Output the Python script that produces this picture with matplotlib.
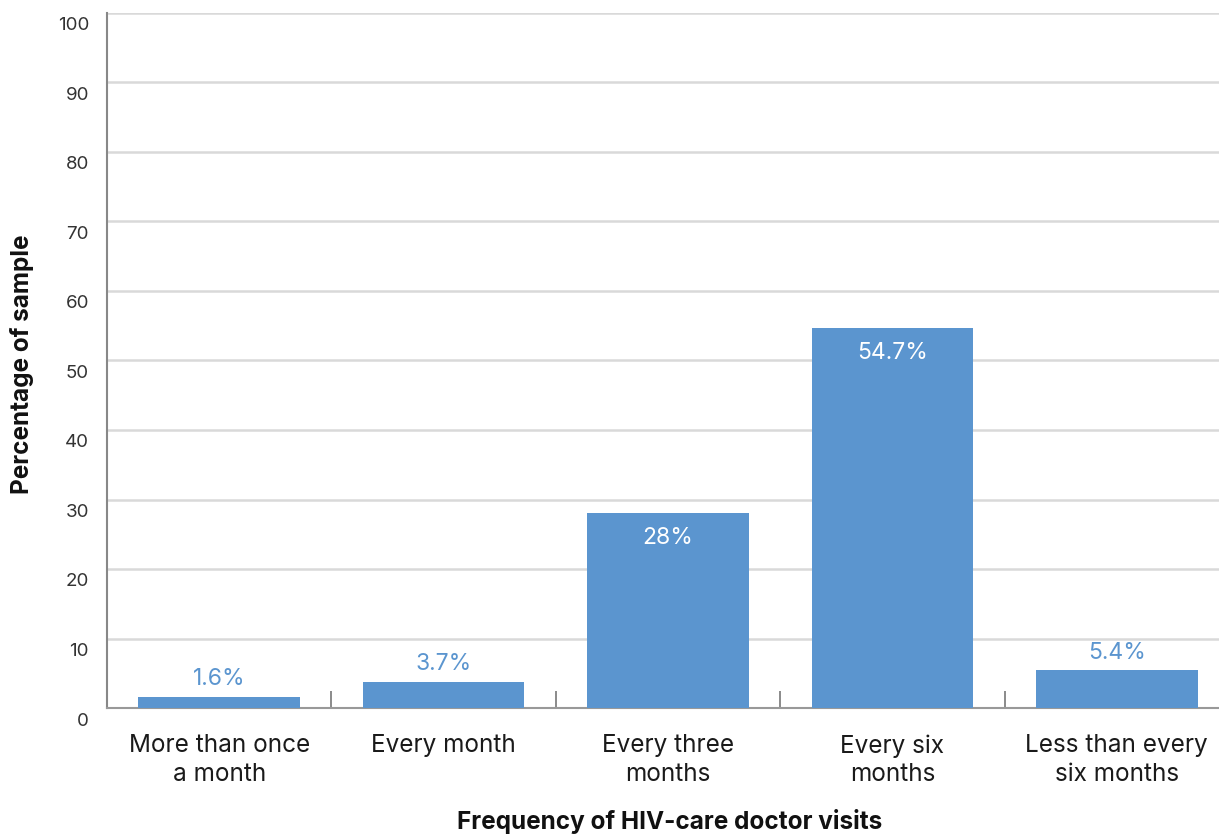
import matplotlib
matplotlib.use("Agg")
import matplotlib.pyplot as plt
import matplotlib.transforms as mtransforms
import numpy as np

categories = ["More than once\na month", "Every month", "Every three\nmonths",
              "Every six\nmonths", "Less than every\nsix months"]
values = [1.6, 3.7, 28.0, 54.7, 5.4]
value_labels = ["1.6%", "3.7%", "28%", "54.7%", "5.4%"]
yticks = list(range(0, 101, 10))

plt.rcParams['font.family'] = ['Inter', 'DejaVu Sans']

W, H = 1219, 834
fig = plt.figure(figsize=(W / 100, H / 100), dpi=100)
left, right, bottom, top = 107, 1229, 708, 13
ax = fig.add_axes([left / W, (H - bottom) / H, (right - left) / W, (bottom - top) / H])

bar_color = "#5B95CF"
x = np.arange(len(categories))
bars = ax.bar(x, values, width=0.72, color=bar_color, zorder=3)

ax.set_xlim(-0.5, len(categories) - 0.5)
ax.set_ylim(0, 100)
ax.set_yticks(yticks)
ax.set_yticklabels([str(t) for t in yticks], fontsize=13.5, color="#333333")
ax.tick_params(axis='y', length=0, pad=13)
offset = mtransforms.ScaledTranslation(0, -11 / 100, fig.dpi_scale_trans)
for lab in ax.get_yticklabels():
    lab.set_transform(lab.get_transform() + offset)

ax.set_xticks(x)
ax.set_xticklabels(categories, fontsize=17.5, color="#1a1a1a", linespacing=1.3)
ax.tick_params(axis='x', which='major', length=0, pad=19)
ax.set_xticks(np.arange(0.5, len(categories) - 0.5, 1), minor=True)
ax.tick_params(axis='x', which='minor', direction='in', length=12, width=1.2, color="#777777")

ax.grid(axis='y', color="#d9d9d9", linewidth=1.8, zorder=0)
for s in ['top', 'right']:
    ax.spines[s].set_visible(False)
ax.spines['left'].set_color("#888888")
ax.spines['left'].set_linewidth(1.5)
ax.spines['bottom'].set_color("#999999")
ax.spines['bottom'].set_linewidth(1.5)

for xi, v, lab in zip(x, values, value_labels):
    if v > 20:
        ax.text(xi, v - 2.0, lab, ha='center', va='top', color='white', fontsize=16.5)
    else:
        ax.text(xi, v + 1.0, lab, ha='center', va='bottom', color=bar_color, fontsize=16.5)

fig.text(670 / W, 1 - 822 / H, "Frequency of HIV-care doctor visits", ha='center', va='center',
         fontsize=17.5, fontweight='bold', color="#111111")
fig.text(22 / W, 1 - 364 / H, "Percentage of sample", ha='center', va='center', rotation=90,
         fontsize=17.5, fontweight='bold', color="#111111")

fig.savefig("out.png", dpi=100)
